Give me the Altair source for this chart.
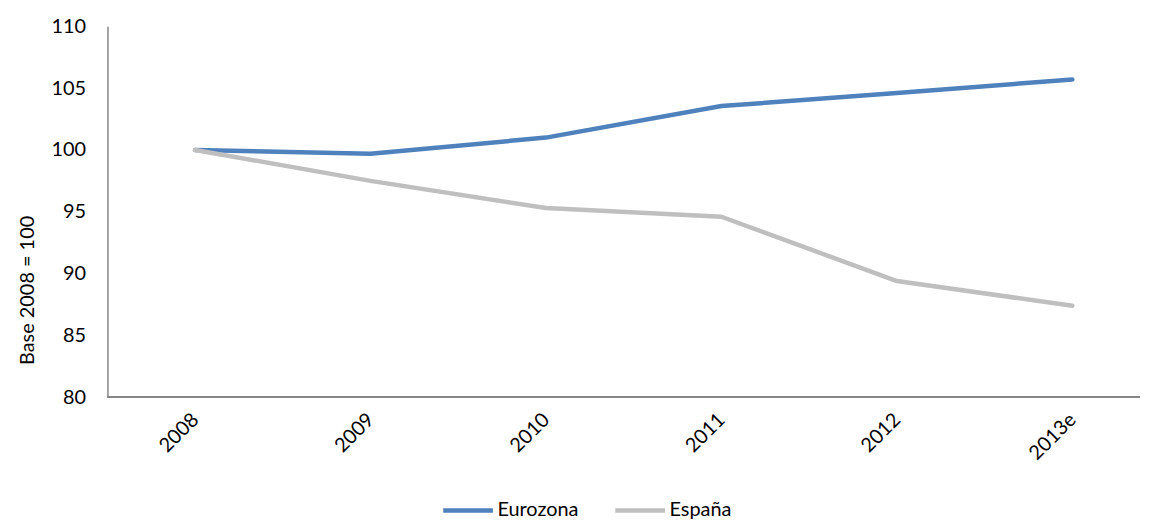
import altair as alt
import pandas as pd

years = ["2008", "2009", "2010", "2011", "2012", "2013e"]
eurozona = [100.0, 99.7, 101.0, 103.55, 104.6, 105.7]
espana = [100.0, 97.5, 95.3, 94.6, 89.4, 87.4]
series_names = ["Eurozona", "España"]
colors = ["#4F81BD", "#BFBFBF"]

rows = []
for y, v in zip(years, eurozona):
    rows.append({"year": y, "value": v, "serie": series_names[0]})
for y, v in zip(years, espana):
    rows.append({"year": y, "value": v, "serie": series_names[1]})
df = pd.DataFrame(rows)

FONT = "Lato"
W, H = 1038, 373

lines = alt.Chart(df).mark_line(strokeWidth=4.5, strokeCap="round", strokeJoin="round").encode(
    x=alt.X("year:N", sort=years, title=None,
            scale=alt.Scale(type="point", range=[88, 970], padding=0),
            axis=alt.Axis(labelAngle=-45, labelFontSize=20, labelFont=FONT, labelColor="#000000",
                          ticks=False, domain=False, labelOffset=-7,
                          labelPadding=12, grid=False)),
    y=alt.Y("value:Q", title="Base 2008 = 100",
            scale=alt.Scale(domain=[80, 110], nice=False, zero=False),
            axis=alt.Axis(values=[80, 85, 90, 95, 100, 105, 110], labelFontSize=20, labelFont=FONT,
                          labelColor="#000000", ticks=False, domainColor="#868686", domainWidth=1.5,
                          labelPadding=22, grid=False, titleFont=FONT, titleFontSize=20,
                          titleFontWeight="normal", titleColor="#000000",
                          titleX=-70, titleY=265, titleAngle=270)),
    color=alt.Color("serie:N", sort=series_names,
                    scale=alt.Scale(domain=series_names, range=colors),
                    legend=alt.Legend(title=None, orient="none", direction="horizontal",
                                      legendX=335, legendY=459,
                                      symbolType="stroke", symbolSize=2500, symbolStrokeWidth=4.5,
                                      labelFontSize=20, labelFont=FONT, labelColor="#000000",
                                      columnPadding=27, labelOffset=2)),
)

xaxis_line = alt.Chart(df).mark_rule(color="#868686", strokeWidth=1.5).encode(
    x=alt.value(0), x2=alt.value(W), y=alt.value(H)
)

chart = alt.layer(lines, xaxis_line).properties(
    width=W, height=H,
    padding={"left": 10, "top": 7, "right": 0, "bottom": 5}
).configure_view(stroke=None)

chart.save("out.html", embed_options={"renderer": "svg", "actions": False})
